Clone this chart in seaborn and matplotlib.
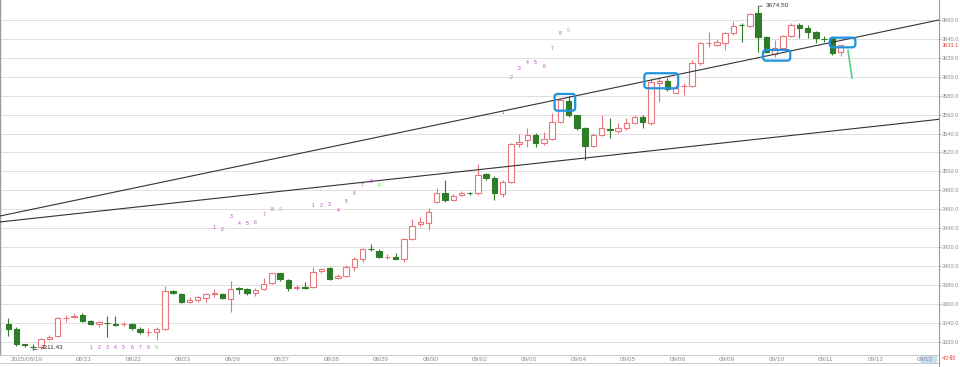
import matplotlib
matplotlib.use('Agg')
import matplotlib.pyplot as plt
import matplotlib.transforms as mtransforms
import pandas as pd
import seaborn as sns
from matplotlib.patches import FancyBboxPatch, Rectangle
from matplotlib.lines import Line2D

# candle data (4h bars)
opens = [3338.6, 3333.4, 3317.0, 3314.5, 3314.3, 3322.5, 3326.0, 3345.0, 3346.5, 3348.2,
         3341.8, 3338.6, 3339.8, 3338.6, 3338.2, 3338.3, 3333.4, 3330.3, 3329.9, 3333.4,
         3373.8, 3370.7, 3362.2, 3364.0, 3366.4, 3370.8, 3370.4, 3365.1, 3377.0, 3375.6,
         3371.7, 3375.6, 3381.7, 3392.2, 3385.1, 3377.2, 3377.6, 3378.1, 3395.1, 3398.2,
         3386.9, 3389.4, 3399.2, 3407.4, 3418.0, 3416.1, 3409.6, 3409.8, 3407.4, 3428.2,
         3444.3, 3445.1, 3468.0, 3476.8, 3469.7, 3475.0, 3477.2, 3477.4, 3497.2, 3492.7,
         3476.0, 3489.1, 3528.9, 3533.1, 3538.4, 3529.7, 3533.9, 3552.5, 3574.4, 3559.6,
         3545.5, 3526.8, 3538.4, 3544.5, 3542.7, 3545.5, 3551.4, 3557.1, 3551.1, 3593.1,
         3595.8, 3582.8, 3589.8, 3590.2, 3614.2, 3635.2, 3633.6, 3635.4, 3645.9, 3655.0,
         3653.7, 3667.1, 3642.3, 3624.1, 3630.1, 3643.1, 3654.7, 3651.2, 3647.0, 3639.9,
         3640.7, 3626.0]
highs = [3345.0, 3335.5, 3318.0, 3317.2, 3323.8, 3327.0, 3346.4, 3348.2, 3349.9, 3350.6,
         3342.9, 3341.8, 3347.4, 3347.4, 3341.1, 3339.4, 3335.2, 3334.1, 3335.2, 3378.8,
         3374.6, 3371.7, 3366.9, 3368.2, 3371.7, 3375.3, 3371.1, 3384.4, 3378.1, 3377.0,
         3377.0, 3386.9, 3392.9, 3392.9, 3385.9, 3379.9, 3383.4, 3399.2, 3397.8, 3399.2,
         3391.2, 3401.0, 3409.2, 3418.7, 3423.2, 3417.6, 3412.6, 3413.4, 3429.2, 3449.3,
         3451.8, 3461.0, 3482.4, 3490.9, 3476.0, 3479.6, 3478.2, 3507.8, 3498.6, 3495.1,
         3490.9, 3530.3, 3539.5, 3545.5, 3540.9, 3541.9, 3561.4, 3577.2, 3579.7, 3559.9,
         3547.2, 3540.2, 3559.6, 3556.1, 3550.8, 3556.1, 3559.6, 3559.6, 3598.4, 3598.4,
         3598.4, 3591.3, 3593.1, 3617.7, 3637.1, 3647.6, 3639.6, 3647.6, 3659.3, 3656.5,
         3667.7, 3674.5, 3643.1, 3638.9, 3644.1, 3656.5, 3657.1, 3654.7, 3648.7, 3643.1,
         3641.7, 3634.0]
lows = [3326.0, 3315.4, 3314.5, 3311.43, 3312.2, 3321.7, 3324.6, 3341.1, 3344.7, 3341.1,
        3337.3, 3335.2, 3324.6, 3337.0, 3336.5, 3332.3, 3328.1, 3326.0, 3321.7, 3332.3,
        3370.4, 3360.5, 3360.5, 3362.2, 3362.2, 3367.5, 3364.7, 3351.6, 3370.4, 3369.3,
        3368.2, 3374.6, 3380.6, 3384.4, 3373.8, 3374.6, 3375.3, 3376.4, 3392.2, 3385.1,
        3385.9, 3388.0, 3395.0, 3404.5, 3416.1, 3408.1, 3407.0, 3407.0, 3404.5, 3427.4,
        3440.9, 3438.0, 3466.6, 3467.6, 3468.7, 3473.9, 3475.0, 3475.0, 3490.9, 3469.7,
        3473.2, 3488.0, 3526.1, 3526.1, 3526.1, 3527.9, 3533.1, 3551.4, 3557.8, 3543.7,
        3512.0, 3526.1, 3537.4, 3534.9, 3540.9, 3543.7, 3550.1, 3545.5, 3549.0, 3573.6,
        3585.3, 3582.5, 3580.7, 3588.9, 3612.4, 3631.8, 3632.5, 3628.3, 3644.1, 3637.1,
        3652.3, 3626.5, 3625.4, 3621.2, 3628.3, 3641.7, 3640.7, 3640.7, 3635.4, 3637.1,
        3623.0, 3621.9]
closes = [3333.4, 3317.5, 3316.0, 3314.0, 3322.8, 3325.2, 3344.7, 3345.5, 3347.0, 3342.1,
          3338.6, 3340.4, 3339.4, 3337.3, 3338.6, 3334.1, 3329.9, 3330.6, 3333.4, 3373.5,
          3371.1, 3362.2, 3364.0, 3366.9, 3370.4, 3371.1, 3365.8, 3375.6, 3375.6, 3371.7,
          3374.6, 3380.9, 3392.2, 3386.2, 3376.4, 3377.4, 3377.2, 3393.9, 3396.5, 3385.9,
          3389.4, 3399.2, 3407.0, 3417.6, 3417.6, 3409.8, 3409.9, 3407.4, 3428.2, 3442.6,
          3446.8, 3457.4, 3477.4, 3469.7, 3473.9, 3477.4, 3476.6, 3496.2, 3493.3, 3476.8,
          3489.1, 3528.9, 3531.4, 3538.4, 3529.7, 3533.9, 3552.5, 3575.4, 3559.6, 3545.5,
          3526.8, 3538.4, 3546.2, 3544.0, 3545.5, 3551.4, 3557.1, 3552.5, 3594.5, 3595.5,
          3586.7, 3588.1, 3590.2, 3614.2, 3635.4, 3635.6, 3637.1, 3645.9, 3653.7, 3654.6,
          3666.3, 3642.3, 3626.5, 3630.1, 3643.1, 3654.7, 3651.2, 3647.6, 3640.7, 3639.6,
          3624.8, 3633.1]

# date labels on the bar axis
date_pos = [0, 8, 14, 20, 26, 32, 38, 44, 50, 56, 62, 68, 74, 80, 86, 92, 98, 104, 110]
date_labels = ['2025/08/19', '08/21', '08/22', '08/23', '08/26', '08/27', '08/28', '08/29',
               '08/30', '09/02', '09/03', '09/04', '09/05', '09/06', '09/09', '09/10',
               '09/11', '09/12', '09/13']

# sequence counts (1..9)
count_labels = ['1', '2', '3', '4', '5', '6', '7', '8', '9']
count_a_start, count_a_vals = 10, [3313.5] * 9
count_b_start, count_b_vals = 25, [3440.9, 3438.7, 3452.1, 3445.1, 3445.1, 3445.7, 3454.9, 3459.2, 3460.0]
count_c_start, count_c_vals = 37, [3464.4, 3463.7, 3465.2, 3458.1, 3468.0, 3476.8, 3484.8, 3489.8, 3484.8]
count_d_start, count_d_vals = 60, [3562.4, 3599.0, 3608.9, 3615.3, 3615.3, 3610.6, 3630.1, 3645.2, 3648.4]

# drawn trend lines (bar index, price)
trend1_x, trend1_y = [-1.0, 112.95], [3452.8, 3660.0]
trend2_x, trend2_y = [-1.0, 112.95], [3446.5, 3555.0]
arrow_x, arrow_y = [101.9, 102.4], [3628.3, 3598.4]

# highlight boxes: (x0, x1, y0, y1)
boxes = [(66.3, 68.8, 3564.1, 3581.8),
         (77.2, 81.3, 3587.8, 3603.7),
         (91.6, 94.9, 3617.0, 3628.3),
         (99.7, 102.8, 3631.1, 3641.3)]

last_price = 3633.1

sns.set_theme(style='white')
plt.rcParams['font.family'] = ['Liberation Sans', 'Noto Sans CJK SC', 'DejaVu Sans']

UP = '#e8767c'
DOWN = '#2e7b28'
GRID = '#dedede'
AXC = '#9a9a9a'

fig = plt.figure(figsize=(9.6, 3.67), dpi=100)
ax = fig.add_axes([0, 12 / 367, 939 / 960, 355 / 367])
ax.set_facecolor('white')

df = pd.DataFrame({'open': opens, 'high': highs, 'low': lows, 'close': closes})
df['idx'] = range(len(df))
df['up'] = df['close'] >= df['open']

# trend lines
sns.lineplot(x=trend1_x, y=trend1_y, ax=ax, color='#333333', linewidth=0.8, zorder=4)
sns.lineplot(x=trend2_x, y=trend2_y, ax=ax, color='#333333', linewidth=0.8, zorder=4)

# candles
colors = [UP if u else DOWN for u in df['up']]
ax.vlines(df['idx'], df['low'], df['high'], colors=colors, linewidth=0.8, zorder=2)
bottoms = df[['open', 'close']].min(axis=1)
heights = (df['close'] - df['open']).abs().clip(lower=0.25)
ax.bar(df['idx'], heights, bottom=bottoms, width=0.66,
       color=['white' if u else DOWN for u in df['up']],
       edgecolor=colors, linewidth=0.8, zorder=3)

# high / low marks
hi = df['high'].idxmax()
lo = df['low'].idxmin()
ax.annotate(f"{df['high'][hi]:.2f}", xy=(hi, df['high'][hi]), xytext=(hi + 0.9, df['high'][hi] + 1),
            fontsize=4.6, color='#333333', va='center', ha='left',
            arrowprops=dict(arrowstyle='-', lw=0.6, color='#555555', shrinkA=0, shrinkB=0))
ax.annotate(f"{df['low'][lo]:.2f}", xy=(lo, df['low'][lo]), xytext=(lo + 0.9, df['low'][lo] + 2.5),
            fontsize=4.6, color='#333333', va='center', ha='left',
            arrowprops=dict(arrowstyle='-', lw=0.6, color='#555555', shrinkA=0, shrinkB=0))

# sequence counts
for start, vals in [(count_a_start, count_a_vals), (count_b_start, count_b_vals),
                    (count_c_start, count_c_vals), (count_d_start, count_d_vals)]:
    for k, (v, lab) in enumerate(zip(vals, count_labels)):
        ax.text(start + k, v, lab, fontsize=3.6, ha='center', va='center',
                color='#66dd66' if lab == '9' else '#c040c8', zorder=5)

# highlight boxes
for x0, x1, y0, y1 in boxes:
    ax.add_patch(FancyBboxPatch((x0, y0), x1 - x0, y1 - y0,
                                boxstyle='round,pad=0,rounding_size=0.35',
                                mutation_aspect=8.7, fill=False,
                                edgecolor='#1f93e0', linewidth=1.6, zorder=6))

ax.plot(arrow_x, arrow_y, color='#55d08a', linewidth=1.2, zorder=6)

ax.set_xlim(-1.0, 112.95)
ax.set_ylim(3305.9, 3681.1)

# right price axis
ax.yaxis.tick_right()
ax.set_yticks(range(3320, 3661, 20))
ax.set_yticklabels([f'{v:.1f}' for v in range(3320, 3661, 20)])
ax.tick_params(axis='y', length=1.5, width=0.6, color=AXC, pad=0.8, labelsize=4.1, labelcolor='#8a8a8a')
ax.grid(axis='y', color=GRID, linewidth=0.7)
ax.grid(axis='x', visible=False)
ax.text(1.0025, last_price, f'{last_price:.1f}', transform=ax.get_yaxis_transform(),
        fontsize=4.1, color='#e04a3a', va='center', ha='left', clip_on=False)

# date axis
ax.set_xticks(date_pos)
ax.set_xticklabels(date_labels)
ax.tick_params(axis='x', length=5.8, width=0.6, color='#b5b5b5', direction='out',
               pad=-4.6, labelsize=4.6, labelcolor='#8a8a8a')
shift = mtransforms.ScaledTranslation(1.5 / 72, 0, fig.dpi_scale_trans)
for lab in ax.get_xticklabels():
    lab.set_horizontalalignment('left')
    lab.set_transform(lab.get_transform() + shift)

ax.spines['top'].set_visible(False)
ax.spines['bottom'].set_color('#c8c8c8')
ax.spines['bottom'].set_linewidth(0.7)
ax.spines['left'].set_color('#9a9a9a')
ax.spines['left'].set_linewidth(1.0)
ax.spines['right'].set_color(AXC)
ax.spines['right'].set_linewidth(0.8)

# frame pieces below the chart
fig.add_artist(Line2D([0, 939 / 960], [4 / 367, 4 / 367], color='#c8c8c8', linewidth=0.7))
fig.add_artist(Line2D([939 / 960, 939 / 960], [0, 12 / 367], color=AXC, linewidth=0.8))
fig.add_artist(Rectangle((921 / 960, 5 / 367), 15 / 960, 7 / 367, color='#c9dcf2', zorder=0))
fig.text(941.5 / 960, 8 / 367, '4小时', fontsize=4.1, color='#e04a3a', va='center', ha='left')

fig.savefig('out.png', dpi=100, facecolor='white')
